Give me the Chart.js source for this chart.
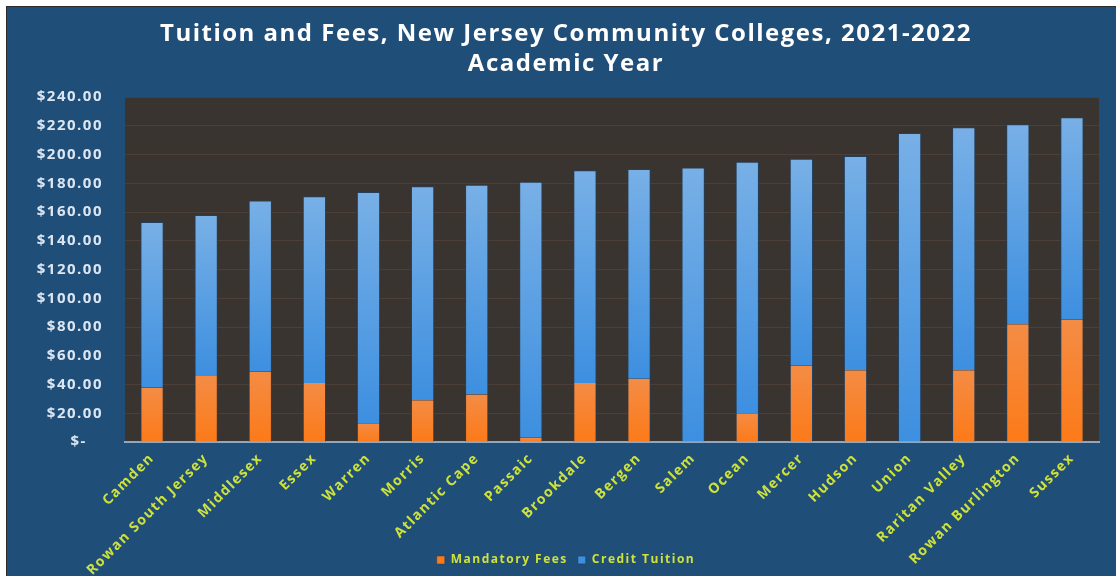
<!DOCTYPE html>
<html lang="en">
<head>
    <meta charset="UTF-8">
    <title>Tuition and Fees, New Jersey Community Colleges, 2021-2022</title>
    <style>
        body {
            margin: 0;
            background: #ffffff;
        }
        #frame {
            position: absolute;
            left: 6px;
            top: 6px;
            border-left: 1px solid #2b2b2b;
            border-top: 1px solid #2b2b2b;
            background: #1f4e79;
        }
        canvas {
            display: block;
        }
    </style>
</head>
<body>
    <div id="frame">
        <canvas id="tuitionChart" width="1109" height="569"></canvas>
    </div>
    <script src="https://cdn.jsdelivr.net/npm/chart.js"></script>
    <script>
        const colleges = ['Camden', 'Rowan South Jersey', 'Middlesex', 'Essex', 'Warren', 'Morris',
            'Atlantic Cape', 'Passaic', 'Brookdale', 'Bergen', 'Salem', 'Ocean', 'Mercer', 'Hudson',
            'Union', 'Raritan Valley', 'Rowan Burlington', 'Sussex'];
        const mandatoryFees = [38, 46, 49, 41, 13, 29, 33, 3, 41, 44, 0, 20, 53, 50, 0, 50, 82, 85];
        const creditTuition = [115, 112, 119, 130, 161, 149, 146, 178, 148, 146, 191, 175, 144, 149, 215, 169, 139, 141];
        const yMax = 240;
        const yStep = 20;

        const font = "'Open Sans', sans-serif";
        const labelGreen = '#cfe23c';
        const barEdge = '#22405f';

        // vertical gradient over one stacked segment, light at top
        function segmentFill(solid, topColor, bottomColor, lowOf, highOf) {
            return function (c) {
                if (c.type !== 'data') return solid;
                const y = c.chart.scales.y;
                if (!y || !c.chart.chartArea) return solid;
                const i = c.dataIndex;
                const yTop = y.getPixelForValue(highOf(i));
                const yBottom = y.getPixelForValue(lowOf(i));
                if (!(yBottom > yTop)) return solid;
                const g = c.chart.ctx.createLinearGradient(0, yTop, 0, yBottom);
                g.addColorStop(0, topColor);
                g.addColorStop(1, bottomColor);
                return g;
            };
        }

        const plotBackground = {
            id: 'plotBackground',
            beforeLayout(chart) {
                chart.ctx.letterSpacing = '1.5px';
            },
            afterLayout(chart) {
                // let the slanted college names run down past the axis box, over the legend row
                chart.scales.x.bottom = chart.height;
            },
            beforeDraw(chart) {
                const { ctx, chartArea: a } = chart;
                ctx.letterSpacing = '1.5px';
                ctx.save();
                ctx.fillStyle = '#3a3431';
                ctx.fillRect(a.left, a.top, a.width, a.height);
                ctx.restore();
            }
        };

        const ctx = document.getElementById('tuitionChart').getContext('2d');
        new Chart(ctx, {
            type: 'bar',
            data: {
                labels: colleges,
                datasets: [{
                    label: 'Mandatory Fees',
                    data: mandatoryFees,
                    backgroundColor: segmentFill('#f7852c', '#f48c45', '#fc7a18',
                        i => 0, i => mandatoryFees[i]),
                    borderColor: barEdge,
                    borderWidth: c => c.type === 'data' ? { left: 1, right: 1, top: 0, bottom: 0 } : 0,
                    borderSkipped: false,
                    barPercentage: 0.43,
                    categoryPercentage: 1
                }, {
                    label: 'Credit Tuition',
                    data: creditTuition,
                    backgroundColor: segmentFill('#5b9bd5', '#78b0e6', '#3d8fe0',
                        i => mandatoryFees[i], i => mandatoryFees[i] + creditTuition[i]),
                    borderColor: barEdge,
                    borderWidth: c => c.type === 'data' ? { left: 1, right: 1, top: 1, bottom: 0 } : 0,
                    borderSkipped: false,
                    barPercentage: 0.43,
                    categoryPercentage: 1
                }]
            },
            plugins: [plotBackground],
            options: {
                responsive: false,
                animation: false,
                devicePixelRatio: 1,
                layout: { padding: { left: 26, right: 17, top: 0, bottom: 0 } },
                plugins: {
                    title: {
                        display: true,
                        text: ['Tuition and Fees, New Jersey Community Colleges, 2021-2022', 'Academic Year'],
                        color: '#ffffff',
                        font: { family: font, size: 24, weight: 'bold', lineHeight: 1.25 },
                        padding: { top: 12, bottom: 18 }
                    },
                    legend: {
                        position: 'bottom',
                        labels: {
                            color: labelGreen,
                            font: { family: font, size: 12, weight: 'bold' },
                            boxWidth: 8,
                            boxHeight: 8,
                            padding: 10
                        }
                    },
                    tooltip: { enabled: false }
                },
                scales: {
                    x: {
                        stacked: true,
                        grid: { display: false },
                        border: { color: '#8ea8c2', width: 2 },
                        afterFit: scale => { scale.height = 102; },
                        ticks: {
                            color: labelGreen,
                            font: { family: font, size: 14, weight: 'bold' },
                            autoSkip: false,
                            minRotation: 45,
                            maxRotation: 45,
                            padding: 0
                        }
                    },
                    y: {
                        stacked: true,
                        min: 0,
                        max: yMax,
                        grid: { color: '#4b3f37', drawTicks: false },
                        border: { display: false },
                        afterFit: scale => { scale.width = 92; },
                        ticks: {
                            stepSize: yStep,
                            color: '#dce6f2',
                            font: { family: font, size: 15, weight: 'bold' },
                            padding: 22,
                            callback: v => v === 0 ? '$-   ' : '$' + v.toFixed(2)
                        }
                    }
                }
            }
        });
    </script>
</body>
</html>
